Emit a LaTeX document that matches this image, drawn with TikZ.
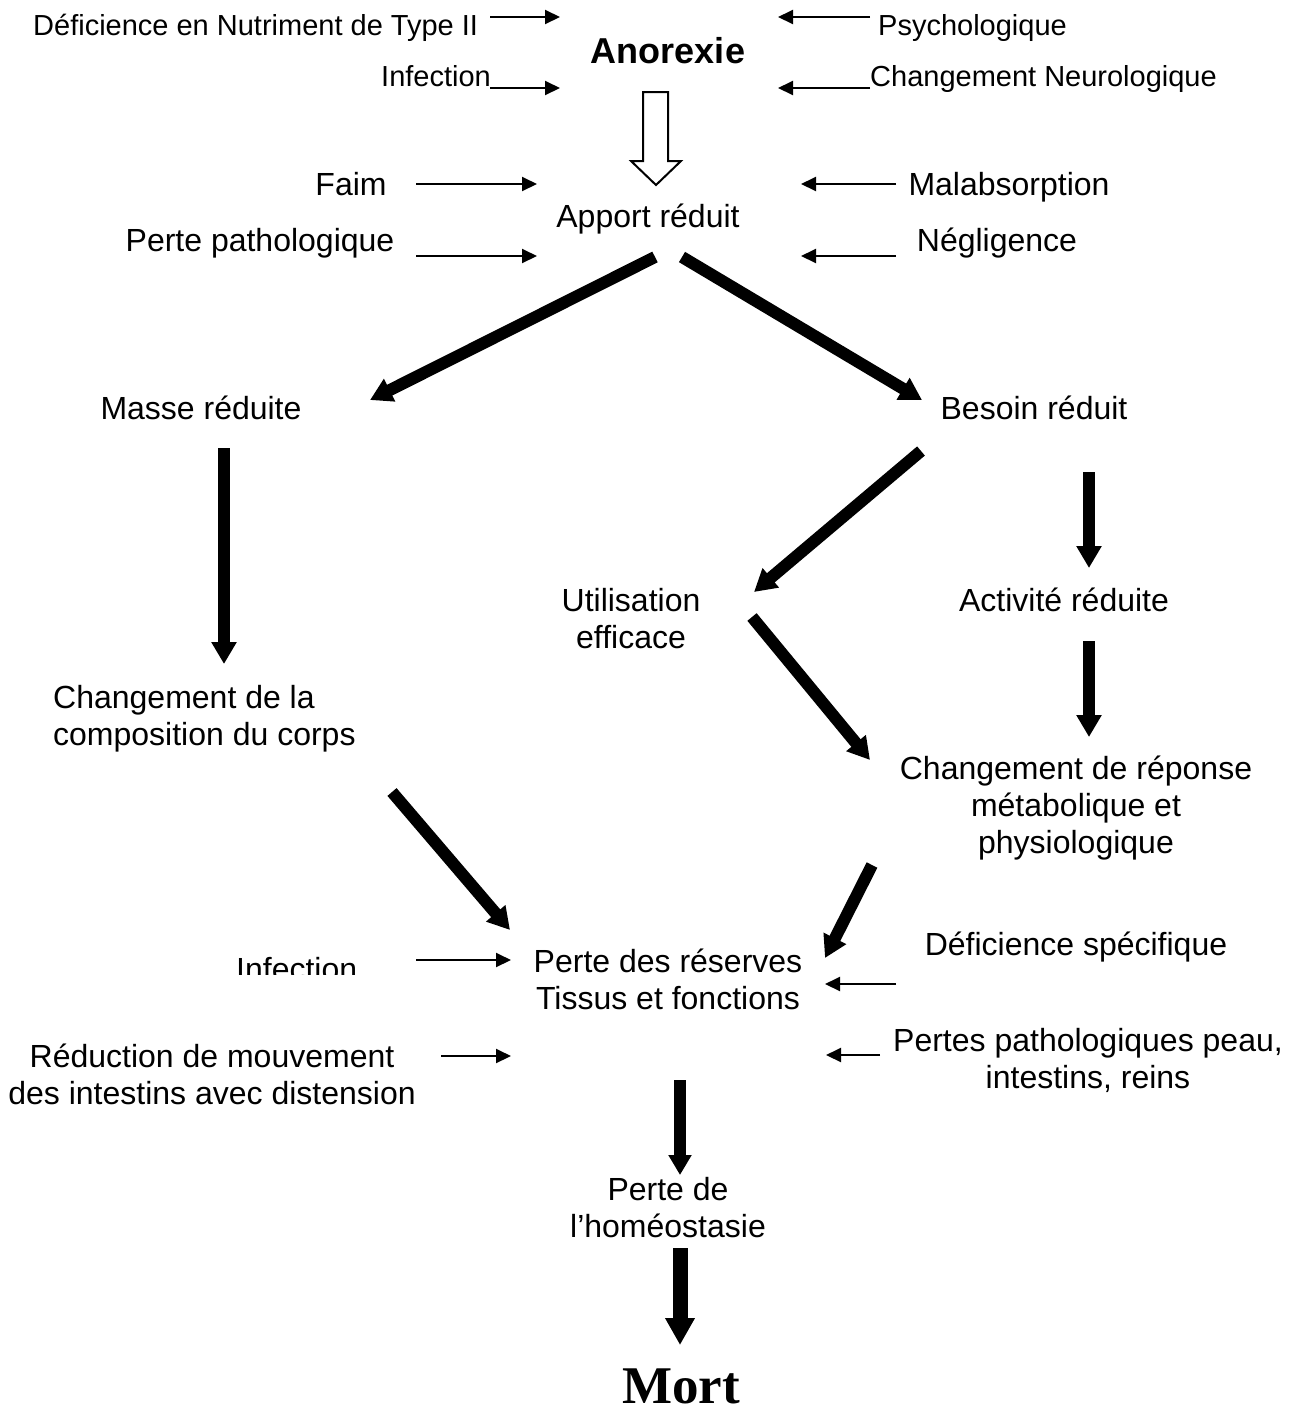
\documentclass[tikz,border=0pt]{standalone}
\usepackage{fontspec}
\setmainfont{Liberation Sans}
\newfontfamily\serifbold{Liberation Serif}
\usetikzlibrary{arrows.meta}
\tikzset{
  lbl/.style={inner sep=0pt, anchor=base, font=\fontsize{32}{37}\selectfont, align=center},
  toplbl/.style={inner sep=0pt, anchor=base west, font=\fontsize{29}{33}\selectfont},
  thin/.style={line width=2pt, -{Triangle[length=15pt,width=14pt]}},
  thick/.style={line width=12pt, -{Triangle[length=22pt,width=24pt]}},
  thicker/.style={line width=15pt, -{Triangle[length=27pt,width=28pt]}},
}
\begin{document}
\begin{tikzpicture}[x=1pt,y=-1pt]
\useasboundingbox (0,0) rectangle (1296,1409);
% top
\node[toplbl] (def) at (33,35) {Déficience en Nutriment de Type II};
\node[toplbl] (psy) at (878,35) {Psychologique};
\node[toplbl] (inf1) at (381,86) {Infection};
\node[toplbl] (neu) at (870,86) {Changement Neurologique};
\node[inner sep=0pt, anchor=base, font=\fontsize{36}{40}\selectfont\bfseries] (ano) at (668,63) {Anorexie};
\coordinate (a1s) at (490,17); \coordinate (a1e) at (560,17);
\coordinate (a2s) at (490,88); \coordinate (a2e) at (560,88);
\coordinate (a3s) at (870,17); \coordinate (a3e) at (778,17);
\coordinate (a4s) at (870,88); \coordinate (a4e) at (778,88);
\draw[thin] (a1s) -- (a1e);
\draw[thin] (a2s) -- (a2e);
\draw[thin] (a3s) -- (a3e);
\draw[thin] (a4s) -- (a4e);
% hollow arrow
\draw[line width=2pt, fill=white, line join=miter] (643,92) -- (668,92) -- (668,161) -- (681,161) -- (656,185) -- (631,161) -- (643,161) -- cycle;
% apport
\node[lbl] (faim) at (351,195) {Faim};
\node[lbl] (ppath) at (260,251) {Perte pathologique};
\node[lbl] (apport) at (648,227) {Apport réduit};
\node[lbl] (malab) at (1009,195) {Malabsorption};
\node[lbl] (negl) at (997,251) {Négligence};
\coordinate (b1s) at (416,184); \coordinate (b1e) at (537,184);
\coordinate (b2s) at (416,256); \coordinate (b2e) at (537,256);
\coordinate (b3s) at (896,184); \coordinate (b3e) at (801,184);
\coordinate (b4s) at (896,256); \coordinate (b4e) at (801,256);
\draw[thin] (b1s) -- (b1e);
\draw[thin] (b2s) -- (b2e);
\draw[thin] (b3s) -- (b3e);
\draw[thin] (b4s) -- (b4e);
% level 2
\node[lbl] (masse) at (201,419) {Masse réduite};
\node[lbl] (besoin) at (1034,419) {Besoin réduit};
\coordinate (c1s) at (655,257); \coordinate (c1e) at (370,400);
\coordinate (c2s) at (682,257); \coordinate (c2e) at (922,400);
\draw[thick] (c1s) -- (c1e);
\draw[thick] (c2s) -- (c2e);
% level 3 (multi-line nodes: base = last line)
\node[lbl] (util) at (631,648) {Utilisation\\efficace};
\node[lbl] (activ) at (1064,611) {Activité réduite};
\node[lbl, anchor=base west, align=left] (compo) at (53,745) {Changement de la\\composition du corps};
\node[lbl] (repon) at (1076,853) {Changement de réponse\\métabolique et\\physiologique};
\coordinate (d1s) at (224,448); \coordinate (d1e) at (224,664);
\coordinate (d2s) at (921,451); \coordinate (d2e) at (754,592);
\coordinate (d3s) at (1089,472); \coordinate (d3e) at (1089,568);
\coordinate (d4s) at (752,617); \coordinate (d4e) at (870,760);
\coordinate (d5s) at (1089,641); \coordinate (d5e) at (1089,737);
\draw[thick] (d1s) -- (d1e);
\draw[thick] (d2s) -- (d2e);
\draw[thick] (d3s) -- (d3e);
\draw[thick] (d4s) -- (d4e);
\draw[thick] (d5s) -- (d5e);
% level 4
\begin{scope}
  \clip (200,900) rectangle (400,974);
  \node[lbl, anchor=base west] (inf2) at (236,980) {Infection};
\end{scope}
\node[lbl] (perte) at (668,1009) {Perte des réserves\\Tissus et fonctions};
\node[lbl] (defspec) at (1076,955) {Déficience spécifique};
\node[lbl] (reduc) at (212,1104) {Réduction de mouvement\\des intestins avec distension};
\node[lbl] (peau) at (1088,1088) {Pertes pathologiques peau,\\intestins, reins};
\coordinate (e1s) at (392,792); \coordinate (e1e) at (510,930);
\coordinate (e2s) at (872,865); \coordinate (e2e) at (825,958);
\draw[thick] (e1s) -- (e1e);
\draw[thick] (e2s) -- (e2e);
\coordinate (f1s) at (416,960); \coordinate (f1e) at (511,960);
\coordinate (f2s) at (896,984); \coordinate (f2e) at (825,984);
\coordinate (f3s) at (441,1056); \coordinate (f3e) at (511,1056);
\coordinate (f4s) at (880,1055); \coordinate (f4e) at (826,1055);
\draw[thin] (f1s) -- (f1e);
\draw[thin] (f2s) -- (f2e);
\draw[thin] (f3s) -- (f3e);
\draw[thin] (f4s) -- (f4e);
% bottom
\node[lbl] (homeo) at (668,1237) {Perte de\\l’homéostasie};
\node[inner sep=0pt, anchor=base, font=\fontsize{53}{58}\selectfont\serifbold\bfseries] (mort) at (681,1403) {Mort};
\coordinate (g1s) at (680,1080); \coordinate (g1e) at (680,1175);
\coordinate (g2s) at (680,1248); \coordinate (g2e) at (680,1345);
\draw[thick, -{Triangle[length=20pt,width=22pt]}] (g1s) -- (g1e);
\draw[thicker] (g2s) -- (g2e);
\end{tikzpicture}
\end{document}
